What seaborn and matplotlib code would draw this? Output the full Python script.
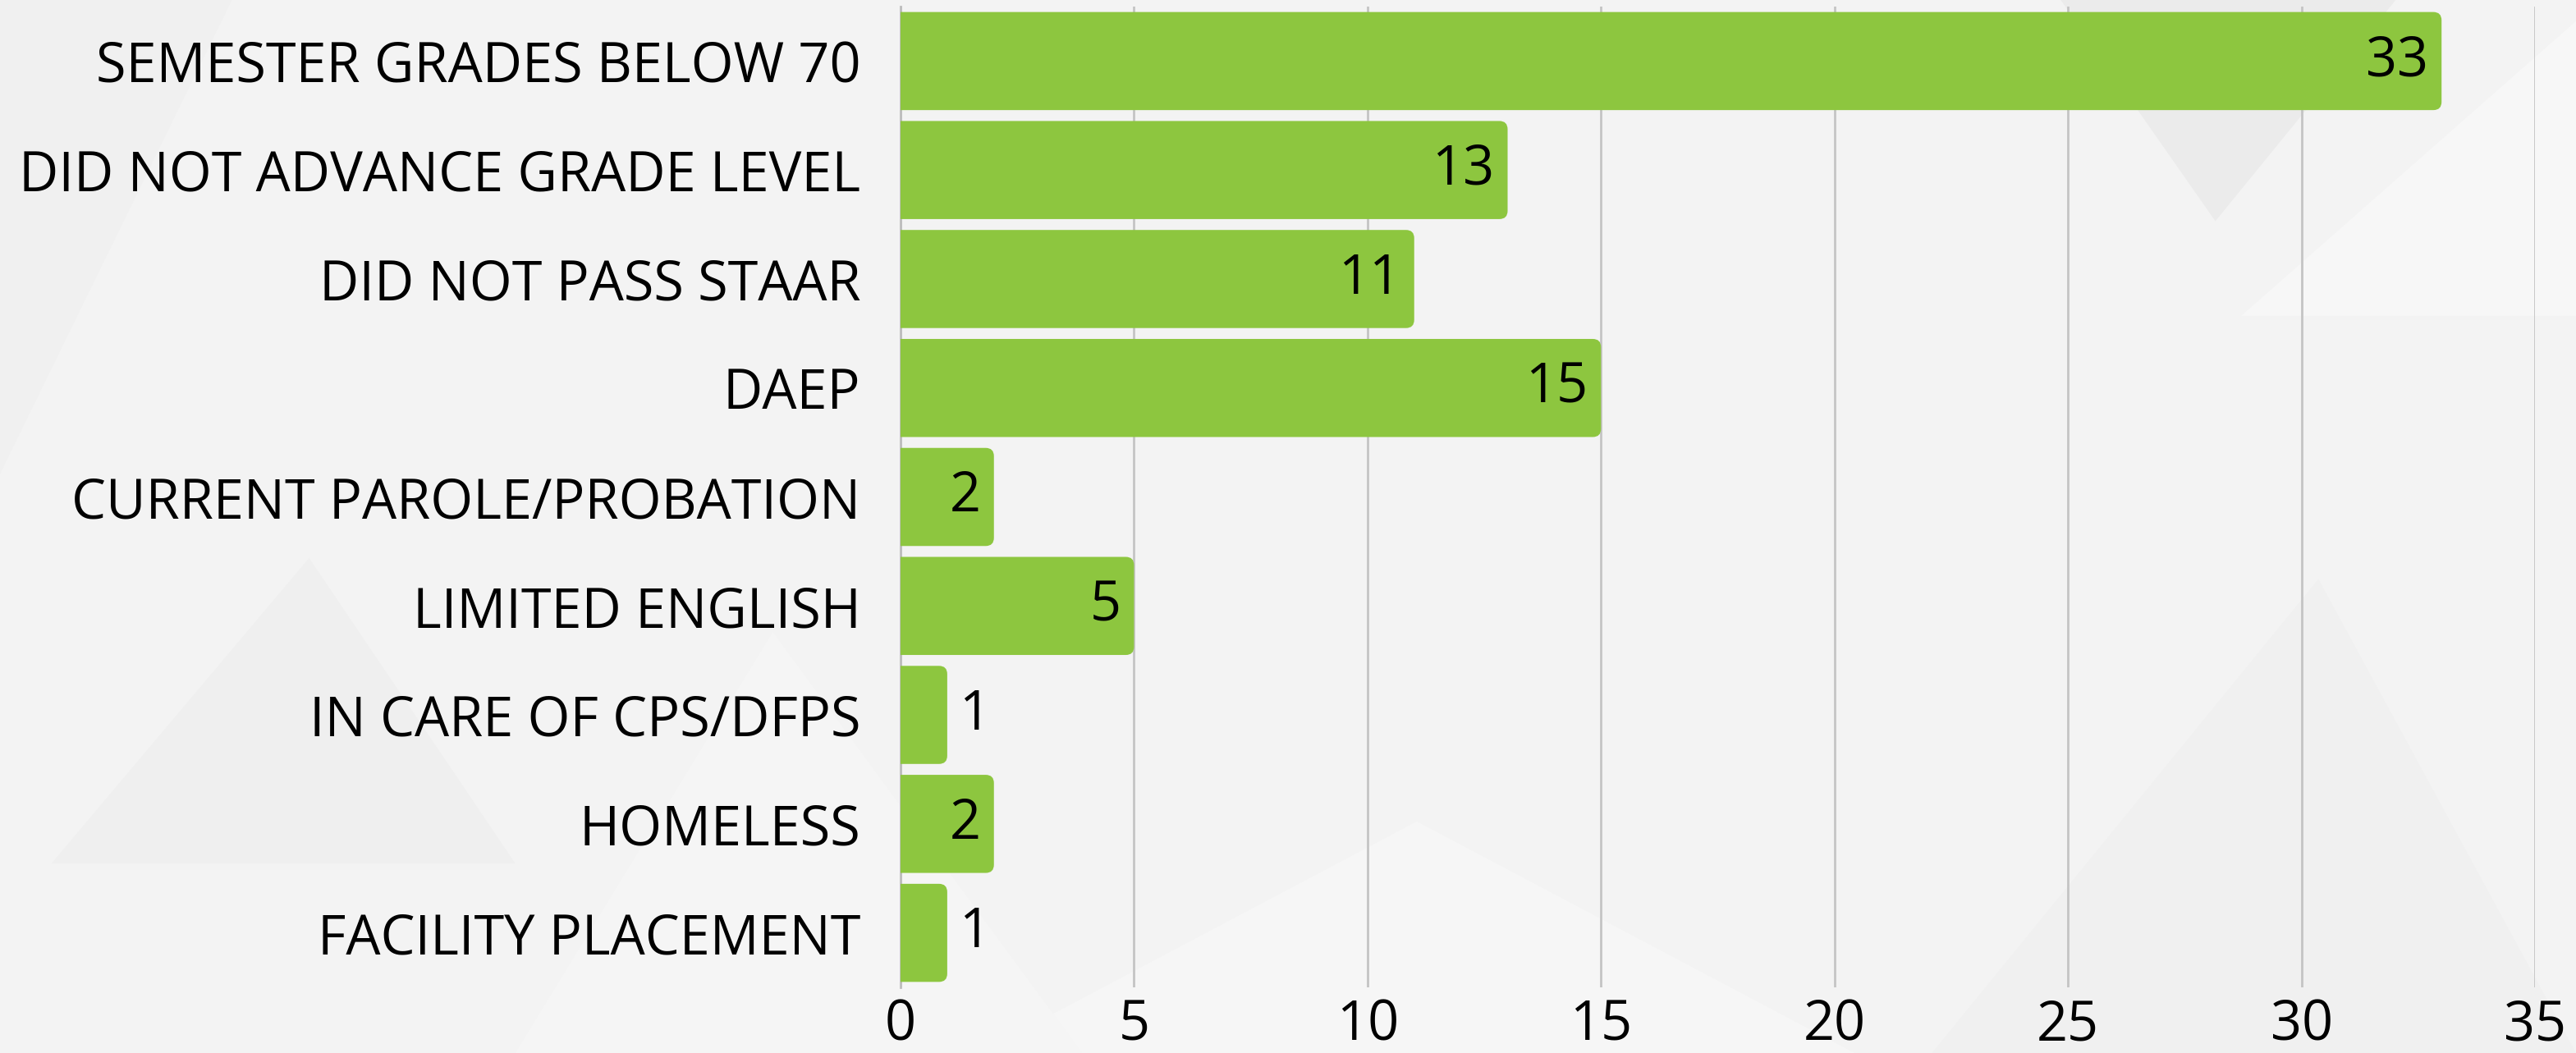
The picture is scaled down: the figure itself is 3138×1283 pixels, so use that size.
import matplotlib
matplotlib.use("Agg")
import matplotlib.pyplot as plt
import seaborn as sns
import pandas as pd
from matplotlib.patches import FancyBboxPatch, Polygon

categories = [
    "SEMESTER GRADES BELOW 70",
    "DID NOT ADVANCE GRADE LEVEL",
    "DID NOT PASS STAAR",
    "DAEP",
    "CURRENT PAROLE/PROBATION",
    "LIMITED ENGLISH",
    "IN CARE OF CPS/DFPS",
    "HOMELESS",
    "FACILITY PLACEMENT",
]
values = [33, 13, 11, 15, 2, 5, 1, 2, 1]
x_ticks = [0, 5, 10, 15, 20, 25, 30, 35]

BAR = "#8dc63f"
BG = "#f3f3f3"
FS = 48

sns.set_theme(style="white")
plt.rcParams["font.family"] = ["Open Sans", "DejaVu Sans"]

W, H, DPI = 3138, 1283, 100
fig = plt.figure(figsize=(W / DPI, H / DPI), dpi=DPI)
fig.patch.set_facecolor(BG)

# subtle background triangles
bg_tris = [
    ([(0.0, 0.55), (0.09, 1.0), (0.0, 1.0)], "#f0f0f0"),
    ([(0.02, 0.18), (0.12, 0.47), (0.20, 0.18)], "#efefef"),
    ([(0.80, 1.0), (0.86, 0.79), (0.93, 1.0)], "#ebebeb"),
    ([(0.87, 0.70), (1.0, 0.98), (1.0, 0.70)], "#f7f7f7"),
    ([(0.38, 0.0), (0.55, 0.22), (0.72, 0.0)], "#f6f6f6"),
    ([(0.75, 0.0), (0.90, 0.45), (1.0, 0.0)], "#f0f0f0"),
    ([(0.20, 0.0), (0.30, 0.40), (0.42, 0.0)], "#f5f5f5"),
]
for pts, col in bg_tris:
    fig.add_artist(Polygon(pts, closed=True, transform=fig.transFigure,
                           facecolor=col, edgecolor="none", zorder=-10))

left_px, right_px, top_px, bot_px = 1097, 3088, 8, 1203
ax = fig.add_axes([left_px / W, 1 - bot_px / H, (right_px - left_px) / W, (bot_px - top_px) / H])
ax.set_facecolor("none")

df = pd.DataFrame({"cat": categories, "val": values})
sns.barplot(data=df, x="val", y="cat", orient="h", color=BAR, width=0.9,
            saturation=1, ax=ax, zorder=3)

ax.set_xlim(0, 35)
ax.set_xticks(x_ticks)
ax.set_xticklabels([str(t) for t in x_ticks])
ax.set_xlabel("")
ax.set_ylabel("")
ax.grid(axis="x", color="#c4c4c4", linewidth=2, zorder=0)
ax.grid(axis="y", visible=False)
for s in ["top", "right", "bottom"]:
    ax.spines[s].set_visible(False)
ax.spines["left"].set_color("#bdbdbd")
ax.spines["left"].set_linewidth(2)
ax.tick_params(axis="x", length=0, pad=9, labelsize=FS, labelcolor="black")
ax.tick_params(axis="y", length=0, pad=35, labelsize=FS, labelcolor="black")

# rounded bar ends (replace seaborn rectangles with rounded patches)
px_per_x = (right_px - left_px) / 35.0
px_per_y = (bot_px - top_px) / 9.0
r_px = 10
rx = r_px / px_per_x
aspect = (r_px / px_per_y) / rx
for p in list(ax.patches):
    x0, y0 = p.get_x(), p.get_y()
    w, h = p.get_width(), p.get_height()
    fb = FancyBboxPatch((x0 - 2 * rx, y0), w + 2 * rx, h,
                        boxstyle=f"round,pad=0,rounding_size={rx}",
                        mutation_aspect=aspect, facecolor=BAR, edgecolor="none",
                        zorder=3)
    ax.add_patch(fb)
    fb.set_clip_path(ax.patch)
    p.remove()

for i, v in enumerate(values):
    if v >= 2:
        ax.text(v - 16 / px_per_x, i, str(v), ha="right", va="center",
                fontsize=FS, color="black", zorder=5)
    else:
        ax.text(v + 14 / px_per_x, i, str(v), ha="left", va="center",
                fontsize=FS, color="black", zorder=5)

fig.savefig("out.png", dpi=DPI, facecolor=BG)
